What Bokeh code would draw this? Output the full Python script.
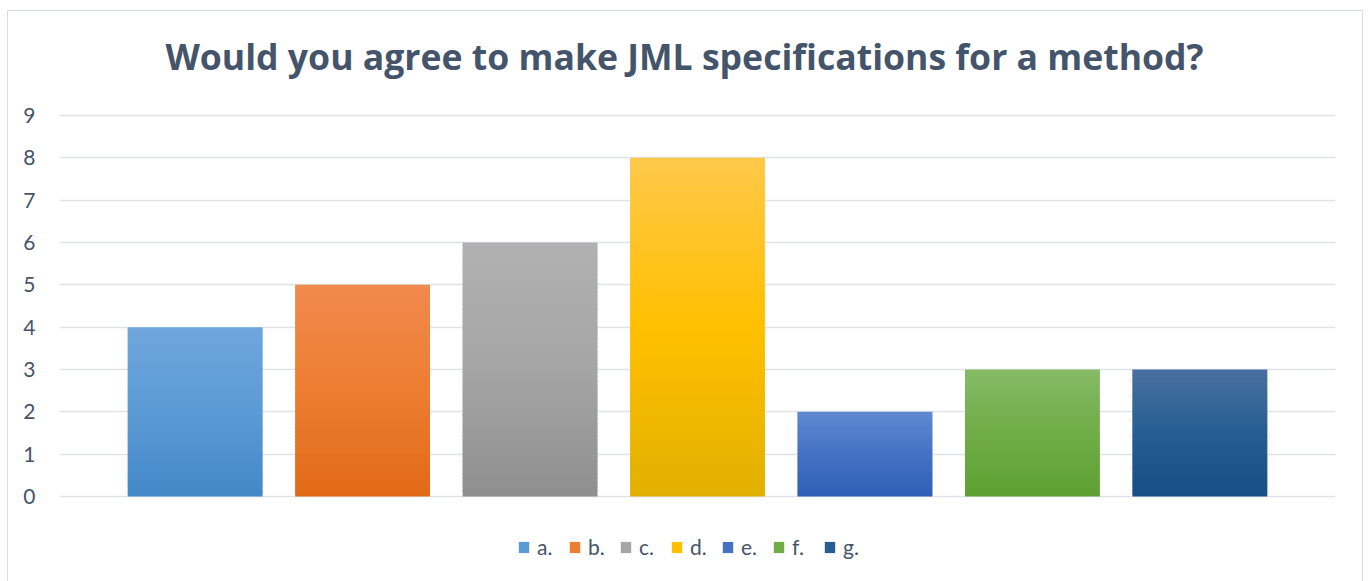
from bokeh.plotting import figure
from bokeh.models import Range1d, FixedTicker, Legend, LegendItem, ColumnDataSource, Label
from bokeh.embed import file_html
from bokeh.resources import INLINE

# ---- data ----
categories = ["a.", "b.", "c.", "d.", "e.", "f.", "g."]
values = [4, 5, 6, 8, 2, 3, 3]
y_ticks = [0, 1, 2, 3, 4, 5, 6, 7, 8, 9]
title_text = "Would you agree to make JML specifications for a method?"

# gradient colours (top, middle, bottom) per series
top_colors = ["#70A6DD", "#F18A4E", "#B1B1B1", "#FFC84A", "#6089D0", "#86BB67", "#4A70A0"]
mid_colors = ["#5B9BD5", "#ED7D31", "#A5A5A5", "#FFC000", "#4472C4", "#70AD47", "#255E91"]
bot_colors = ["#4488C8", "#E16A17", "#8F8F8F", "#E2B000", "#2F5FB8", "#5EA032", "#174F86"]

TEXT = "#44546A"
GRID = "#DFE3E9"
FONT = "Lato"
TITLE_FONT = "Open Sans"


def hex2rgb(h):
    h = h.lstrip("#")
    return tuple(int(h[i:i + 2], 16) for i in (0, 2, 4))


def mix(c1, c2, t):
    a, b = hex2rgb(c1), hex2rgb(c2)
    return "#%02x%02x%02x" % tuple(int(round(a[k] + (b[k] - a[k]) * t)) for k in range(3))


# ---- layout (pixels) ----
W, H = 1356, 572
BL, BR = 51, 29                    # left / right borders around the frame
TOP_GAP = 104                      # px from canvas top to the "9" gridline
TITLE_BASE = 44                    # px from canvas top to the title anchor
UNIT_PX = (496 - 115) / 9.0        # pixels per y unit
Y_TOP_VALUE = 9
Y_MAX = Y_TOP_VALUE + TOP_GAP / UNIT_PX
Y_MIN = Y_MAX - H / UNIT_PX        # frame spans the full canvas height

N = 60
BAR_W = 0.805
xs_l, xs_r, ys_b, ys_t, cols = [], [], [], [], []
mid_index = []
for i, v in enumerate(values):
    for j in range(N):
        t = (j + 0.5) / N
        if t < 0.5:
            c = mix(bot_colors[i], mid_colors[i], t / 0.5)
        else:
            c = mix(mid_colors[i], top_colors[i], (t - 0.5) / 0.5)
        if j == N // 2:
            mid_index.append(len(cols))
        xs_l.append(i - BAR_W / 2)
        xs_r.append(i + BAR_W / 2)
        ys_b.append(v * j / N)
        ys_t.append(v * min(j + 1.6, N) / N)
        cols.append(c)

src = ColumnDataSource(dict(left=xs_l, right=xs_r, bottom=ys_b, top=ys_t, color=cols))

p = figure(width=W, height=H, output_backend="svg", toolbar_location=None,
           x_range=Range1d(-0.81, len(values) - 1 + 0.81), y_range=Range1d(Y_MIN, Y_MAX),
           x_axis_location=None, min_border_left=BL, min_border_right=BR,
           min_border_top=0, min_border_bottom=0)
p.styles = {"margin-left": "7px", "margin-top": "10px", "border": "1px solid #D9DEE4"}

r = p.quad(left="left", right="right", bottom="bottom", top="top", source=src,
           fill_color="color", line_color=None)

title = Label(x=(len(values) - 1) / 2, y=Y_MAX - TITLE_BASE / UNIT_PX, x_offset=-13,
              text=title_text, text_font=TITLE_FONT, text_font_size="35.6px",
              text_font_style="bold", text_color=TEXT, text_align="center",
              text_baseline="alphabetic")
p.add_layout(title)

p.outline_line_color = None
p.xgrid.visible = False
p.ygrid.grid_line_color = GRID
p.ygrid.grid_line_width = 1.5
p.ygrid.ticker = FixedTicker(ticks=y_ticks)

ax = p.yaxis[0]
ax.ticker = FixedTicker(ticks=y_ticks)
ax.axis_line_color = None
ax.major_tick_line_color = None
ax.minor_tick_line_color = None
ax.major_tick_out = 0
ax.major_tick_in = 0
ax.major_label_text_font = FONT
ax.major_label_text_font_size = "21px"
ax.major_label_text_color = TEXT
ax.major_label_standoff = 24

items = [LegendItem(label=categories[i], renderers=[r], index=mid_index[i]) for i in range(len(values))]
legend = Legend(items=items, orientation="horizontal", location=(458, 24),
                label_text_font=FONT, label_text_font_size="21px", label_text_color=TEXT,
                glyph_width=13, glyph_height=14, label_standoff=7, spacing=11,
                border_line_color=None, background_fill_alpha=0, margin=0, padding=0)
p.add_layout(legend)

open("out.html", "w").write(file_html(p, INLINE))
